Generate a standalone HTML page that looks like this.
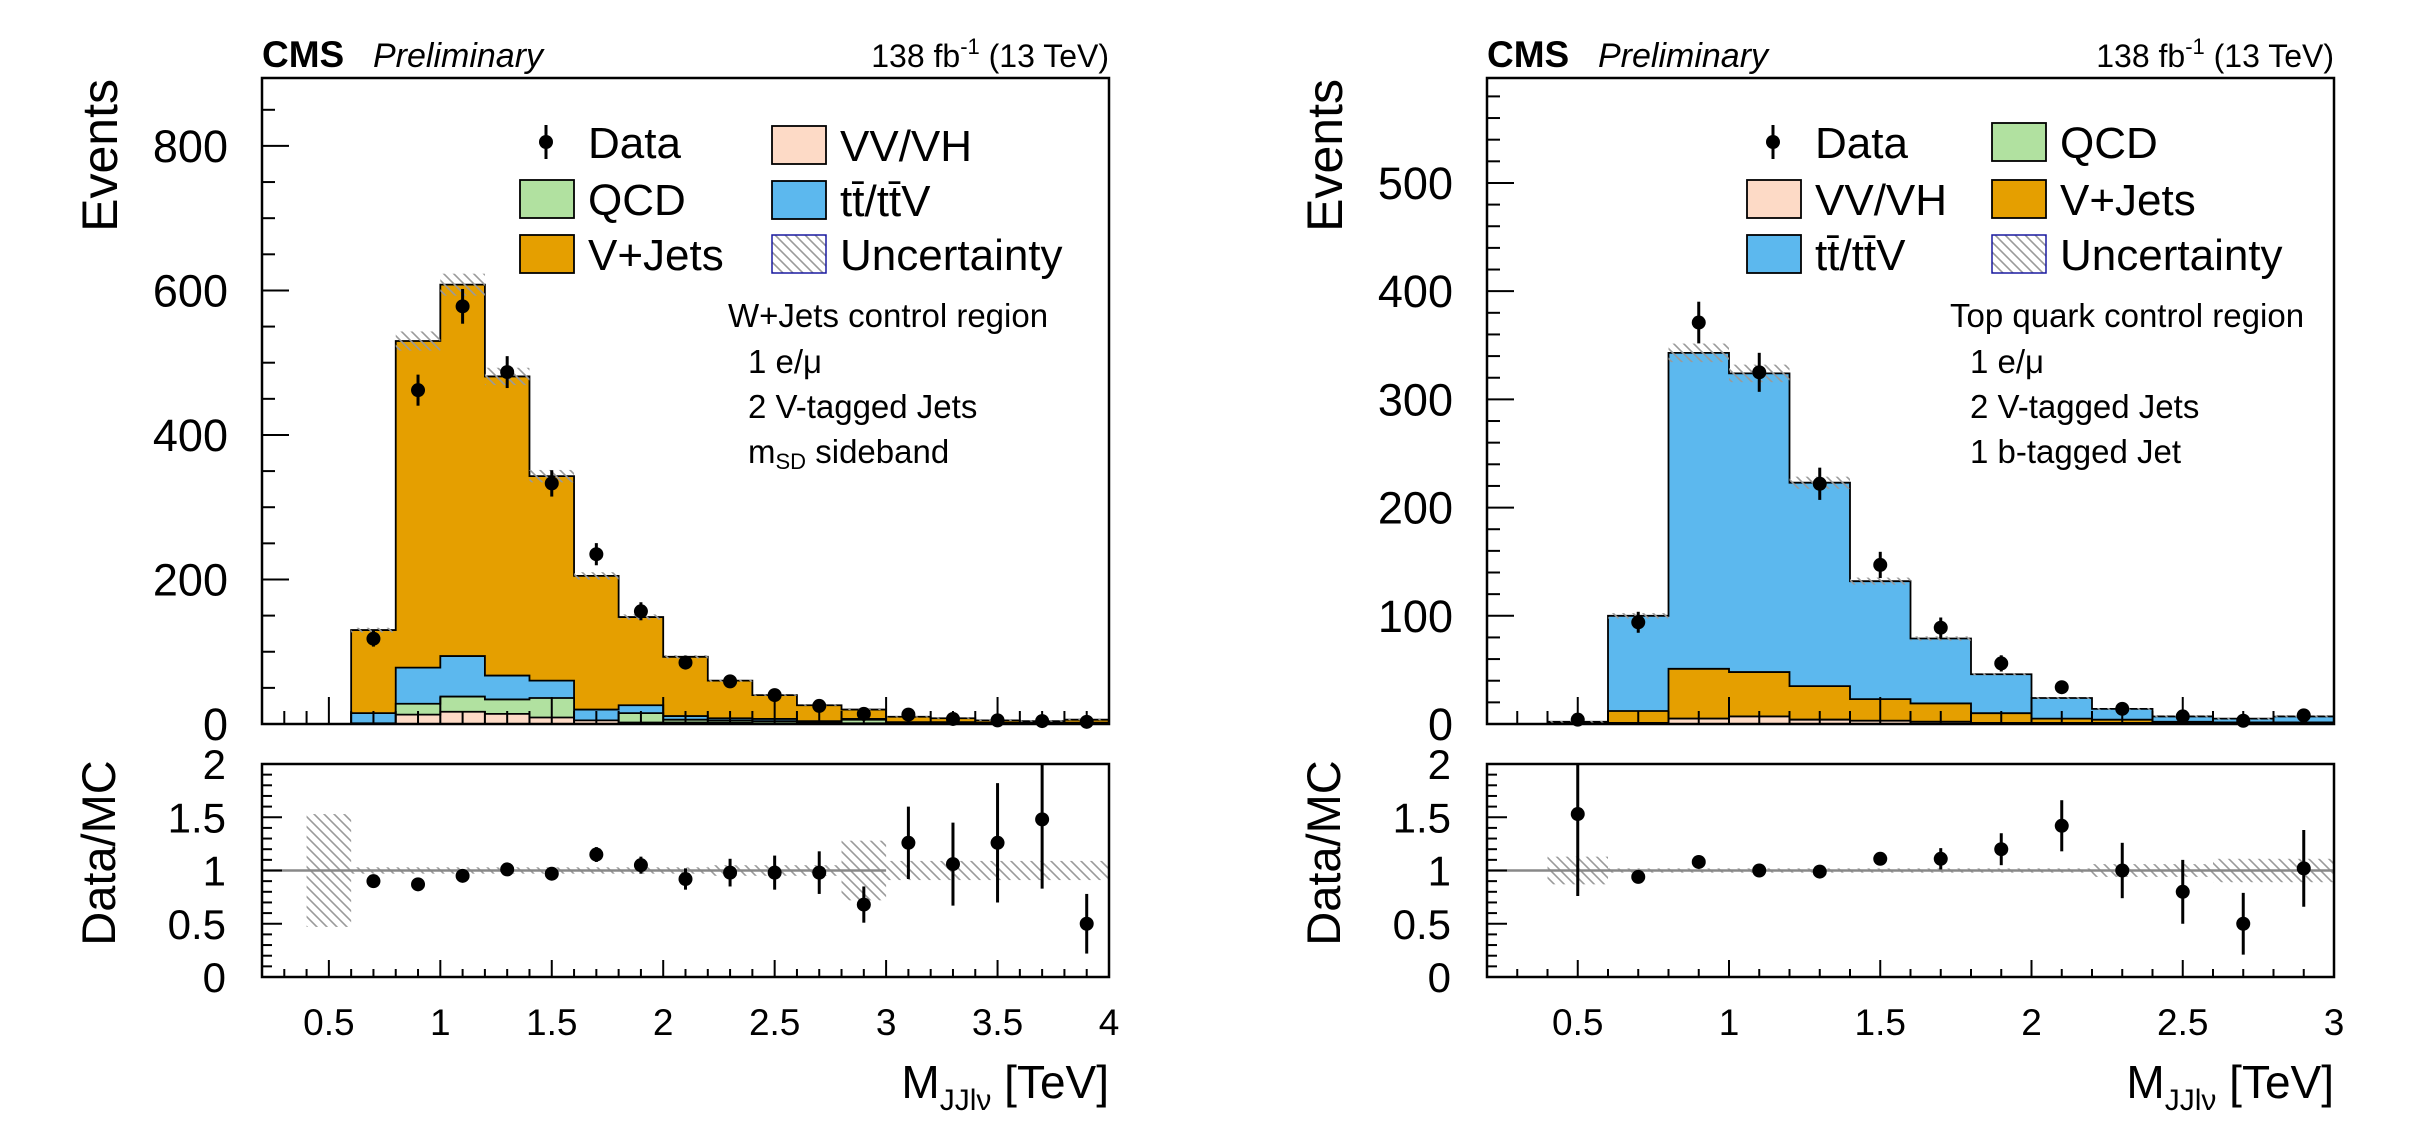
<!DOCTYPE html>
<html><head><meta charset="utf-8"><style>
html,body{margin:0;padding:0;background:#fff;}
svg{display:block;font-family:"Liberation Sans",Arial,sans-serif;}
</style></head><body>
<svg id="s" width="2435" height="1131" xmlns="http://www.w3.org/2000/svg">
<defs>
<pattern id="h" patternUnits="userSpaceOnUse" width="10" height="10">
<path d="M-5,5 L5,15 M0,0 L10,10 M5,-5 L15,5" stroke="#9a9a9a" stroke-width="1.6"/>
</pattern>
</defs>
<g id="root"></g>
</svg>
<script>
var out=[];
function P(s){out.push(s);}
var C={vj:'#e59f00',tt:'#5cb8ee',qcd:'#b1e1a0',vv:'#fddac6'};
function panel(o){
  var X0=o.X0,X1=o.X1,T=78,B=724,RT=764,RB=977;
  var xs=function(v){return X0+(v-o.xmin)/(o.xmax-o.xmin)*(X1-X0);};
  var ys=function(v){return B-v/o.ymax*(B-T);};
  var rs=function(v){return RB-v/2*(RB-RT);};
  var e=o.edges;
  // stacks
  for(var k=o.order.length-1;k>=0;k--){
    var name=o.order[k];var cum=o.cum[k];
    var d='M'+xs(e[0])+','+B;
    for(var i=0;i<cum.length;i++){d+=' L'+xs(e[i])+','+ys(cum[i])+' L'+xs(e[i+1])+','+ys(cum[i]);}
    d+=' L'+xs(e[e.length-1])+','+B+' Z';
    P('<path d="'+d+'" fill="'+C[name]+'" stroke="#000" stroke-width="1.8"/>');
  }
  // uncertainty on total
  var tot=o.cum[o.cum.length-1];
  for(var i=0;i<tot.length;i++){var u=Math.max(tot[i]*0.025,0.8);
    var y1=ys(tot[i]+u),y2=ys(tot[i]-u);
    P('<rect x="'+xs(e[i])+'" y="'+y1+'" width="'+(xs(e[i+1])-xs(e[i]))+'" height="'+(y2-y1)+'" fill="url(#h)"/>');}
  // x ticks main
  for(var v=o.xmin;v<=o.xmax+1e-6;v+=0.1){var maj=Math.abs(v*2-Math.round(v*2))<1e-6;var x=xs(v);
    P('<line x1="'+x+'" y1="'+B+'" x2="'+x+'" y2="'+(B-(maj?27:13))+'" stroke="#000" stroke-width="2"/>');}
  // y ticks main
  for(var v=0;v<=o.ymax;v+=o.ymin_){var maj=Math.abs(v/o.ymaj-Math.round(v/o.ymaj))<1e-6;var y=ys(v);
    P('<line x1="'+X0+'" y1="'+y+'" x2="'+(X0+(maj?27:13))+'" y2="'+y+'" stroke="#000" stroke-width="2"/>');
    if(maj)P('<text x="'+(X0-34)+'" y="'+(y+16)+'" font-size="45" text-anchor="end">'+v+'</text>');}
  // data main
  for(var i=0;i<o.data.length;i++){var x=xs(o.dx0+0.2*i),n=o.data[i],s=Math.sqrt(n);
    P('<line x1="'+x+'" y1="'+ys(n+s)+'" x2="'+x+'" y2="'+Math.min(B,ys(Math.max(n-s,0)))+'" stroke="#000" stroke-width="3"/>');
    P('<circle cx="'+x+'" cy="'+ys(n)+'" r="7" fill="#000"/>');}
  P('<rect x="'+X0+'" y="'+T+'" width="'+(X1-X0)+'" height="'+(B-T)+'" fill="none" stroke="#000" stroke-width="2.5"/>');
  // ratio
  P('<clipPath id="c'+o.id+'"><rect x="'+X0+'" y="'+RT+'" width="'+(X1-X0)+'" height="'+(RB-RT)+'"/></clipPath>');
  P('<g clip-path="url(#c'+o.id+')">');
  for(var i=0;i<o.runc.length;i++){var r=o.runc[i];
    P('<rect x="'+xs(r[0])+'" y="'+rs(1+r[2])+'" width="'+(xs(r[1])-xs(r[0]))+'" height="'+(rs(1-r[2])-rs(1+r[2]))+'" fill="url(#h)"/>');}
  P('<line x1="'+X0+'" y1="'+rs(1)+'" x2="'+xs(o.lineEnd)+'" y2="'+rs(1)+'" stroke="#888" stroke-width="2.5"/>');
  for(var i=0;i<o.ratio.length;i++){var r=o.ratio[i],x=xs(r[0]);
    P('<line x1="'+x+'" y1="'+rs(r[1]+r[2])+'" x2="'+x+'" y2="'+rs(r[1]-r[3])+'" stroke="#000" stroke-width="3"/>');
    P('<circle cx="'+x+'" cy="'+rs(r[1])+'" r="7" fill="#000"/>');}
  P('</g>');
  for(var v=o.xmin;v<=o.xmax+1e-6;v+=0.1){var maj=Math.abs(v*2-Math.round(v*2))<1e-6;var x=xs(v);
    P('<line x1="'+x+'" y1="'+RB+'" x2="'+x+'" y2="'+(RB-(maj?17:8))+'" stroke="#000" stroke-width="2"/>');
    if(maj){var lab=(Math.round(v*2)/2).toString();P('<text x="'+x+'" y="'+1035+'" font-size="37" text-anchor="middle">'+lab+'</text>');}}
  for(var j=0;j<=20;j++){var v=j/10,maj=j%5==0,y=rs(v);
    P('<line x1="'+X0+'" y1="'+y+'" x2="'+(X0+(maj?20:10))+'" y2="'+y+'" stroke="#000" stroke-width="2"/>');
    if(maj){P('<text x="'+(X0-36)+'" y="'+(y+15)+'" font-size="42" text-anchor="end">'+(j==0?'0':j==5?'0.5':j==10?'1':j==15?'1.5':'2')+'</text>');}}
  P('<rect x="'+X0+'" y="'+RT+'" width="'+(X1-X0)+'" height="'+(RB-RT)+'" fill="none" stroke="#000" stroke-width="2.5"/>');
  // labels
  P('<text x="'+X0+'" y="67" font-size="37" font-weight="bold">CMS</text>');
  P('<text x="'+(X0+111)+'" y="67" font-size="34" font-style="italic">Preliminary</text>');
  P('<text x="'+X1+'" y="67" font-size="32" text-anchor="end">138 fb<tspan dy="-13" font-size="22">-1</tspan><tspan dy="13"> (13 TeV)</tspan></text>');
  P('<text transform="translate('+(o.X0-168+5)+',79) rotate(-90)" font-size="50" text-anchor="end" dominant-baseline="auto" x="0" y="18">Events</text>');
  P('<text transform="translate('+(o.X0-168+5)+',853) rotate(-90)" font-size="47" text-anchor="middle" x="0" y="16">Data/MC</text>');
  P('<text x="'+X1+'" y="1098" font-size="46" text-anchor="end">M<tspan font-size="30" dy="12">JJl\u03bd</tspan><tspan dy="-12"> [TeV]</tspan></text>');
  // legend
  var L=o.leg;
  for(var i=0;i<L.length;i++){var it=L[i];var bx=it[0],cy=it[1];
    if(it[2]=='data'){P('<line x1="'+(bx+26)+'" y1="'+(cy-17)+'" x2="'+(bx+26)+'" y2="'+(cy+17)+'" stroke="#000" stroke-width="3"/><circle cx="'+(bx+26)+'" cy="'+cy+'" r="7"/>');}
    else if(it[2]=='unc'){P('<rect x="'+bx+'" y="'+(cy-19)+'" width="54" height="38" fill="url(#h)" stroke="#1a1aa0" stroke-width="1.5"/>');}
    else P('<rect x="'+bx+'" y="'+(cy-19)+'" width="54" height="38" fill="'+C[it[2]]+'" stroke="#000" stroke-width="1.8"/>');
    P('<text x="'+(bx+68)+'" y="'+(cy+16)+'" font-size="44">'+it[3]+'</text>');}
  for(var i=0;i<o.ann.length;i++){P('<text x="'+(o.annx+(i?20:0))+'" y="'+[327,373,418,463][i]+'" font-size="33">'+o.ann[i]+'</text>');}
}
function cumul(arrs){var r=[],s=arrs[0].map(function(){return 0});for(var k=0;k<arrs.length;k++){s=s.map(function(v,i){return v+arrs[k][i]});r.push(s.slice());}return r;}
var TT='t<tspan>t\u0304</tspan>/t<tspan>t\u0304</tspan>V';
// left
var eL=[];for(var i=0;i<=17;i++)eL.push(0.6+0.2*i);
var vvL=[0,13,17,14,9,5,2,2,2,1,1,1,0.5,0.5,0.3,0.3,0.3];
var qL =[1,15,21,20,27,0,13,4,3,3,2,5,1,1,0.5,0.5,0.5];
var ttL=[14,50,56,33,24,15,11,5,3,3,1,1,1,1,1,1,1];
var totL=[130,530,608,481,343,205,148,93,60,40,26,20,10,8,5,4,6];
var vjL=totL.map(function(t,i){return t-vvL[i]-qL[i]-ttL[i];});
panel({id:'L',X0:262,X1:1109,xmin:0.2,xmax:4.0,ymax:894,ymaj:200,ymin_:50,edges:eL,
 order:['vv','qcd','tt','vj'],cum:cumul([vvL,qL,ttL,vjL]),
 data:[118,462,578,487,333,235,156,85,59,40,25,14,13,7,5,4,3],dx0:0.7,
 runc:[[0.4,0.6,0.53],[0.6,2.2,0.03],[2.2,2.8,0.05],[2.8,3.0,0.28],[3.0,4.0,0.09]],lineEnd:3.0,
 ratio:[[0.7,0.90,0.06,0.06],[0.9,0.87,0.04,0.04],[1.1,0.95,0.04,0.04],[1.3,1.01,0.04,0.04],[1.5,0.97,0.05,0.05],[1.7,1.15,0.07,0.07],[1.9,1.05,0.08,0.08],[2.1,0.92,0.1,0.1],[2.3,0.98,0.13,0.13],[2.5,0.98,0.16,0.16],[2.7,0.98,0.2,0.2],[2.9,0.68,0.17,0.17],[3.1,1.26,0.34,0.34],[3.3,1.06,0.39,0.39],[3.5,1.26,0.56,0.56],[3.7,1.48,0.7,0.65],[3.9,0.5,0.28,0.28]],
 leg:[[520,142,'data','Data'],[520,199,'qcd','QCD'],[520,254,'vj','V+Jets'],[772,145,'vv','VV/VH'],[772,200,'tt',TT],[772,254,'unc','Uncertainty']],
 annx:728,ann:['W+Jets control region','1 e/\u03bc','2 V-tagged Jets','m<tspan font-size="22" dy="6">SD</tspan><tspan dy="-6"> sideband</tspan>']});
// right
var eR=[];for(var i=0;i<=13;i++)eR.push(0.4+0.2*i);
var vvR=[0.3,1,5,7,4,3,2,1,1,1,0.5,0.5,0.5];
var qR=[0,0,0,0,0,0,0,0,0,0,0,0,0];
var vjR=[0.5,11,46,41,31,20,17,9,4,3,1.5,1,1];
var totR=[2,100,343,324,223,132,79,46,24,14,7,5,7];
var ttR=totR.map(function(t,i){return t-vvR[i]-vjR[i];});
panel({id:'R',X0:1487,X1:2334,xmin:0.2,xmax:3.0,ymax:597,ymaj:100,ymin_:20,edges:eR,
 order:['vv','qcd','vj','tt'],cum:cumul([vvR,qR,vjR,ttR]),
 data:[4,94,371,325,222,147,89,56,34,14,7,3,8],dx0:0.5,
 runc:[[0.4,0.6,0.13],[0.6,2.2,0.02],[2.2,2.6,0.06],[2.6,3.0,0.11]],lineEnd:3.0,
 ratio:[[0.5,1.53,0.7,0.77],[0.7,0.94,0.05,0.05],[0.9,1.08,0.03,0.03],[1.1,1.0,0.03,0.03],[1.3,0.99,0.03,0.03],[1.5,1.11,0.06,0.06],[1.7,1.11,0.1,0.1],[1.9,1.2,0.15,0.15],[2.1,1.42,0.24,0.24],[2.3,1.0,0.26,0.26],[2.5,0.8,0.3,0.3],[2.7,0.5,0.29,0.29],[2.9,1.02,0.36,0.36]],
 leg:[[1747,142,'data','Data'],[1747,199,'vv','VV/VH'],[1747,254,'tt',TT],[1992,142,'qcd','QCD'],[1992,199,'vj','V+Jets'],[1992,254,'unc','Uncertainty']],
 annx:1950,ann:['Top quark control region','1 e/\u03bc','2 V-tagged Jets','1 b-tagged Jet']});
document.getElementById('root').innerHTML=out.join('');
</script>
</body></html>
